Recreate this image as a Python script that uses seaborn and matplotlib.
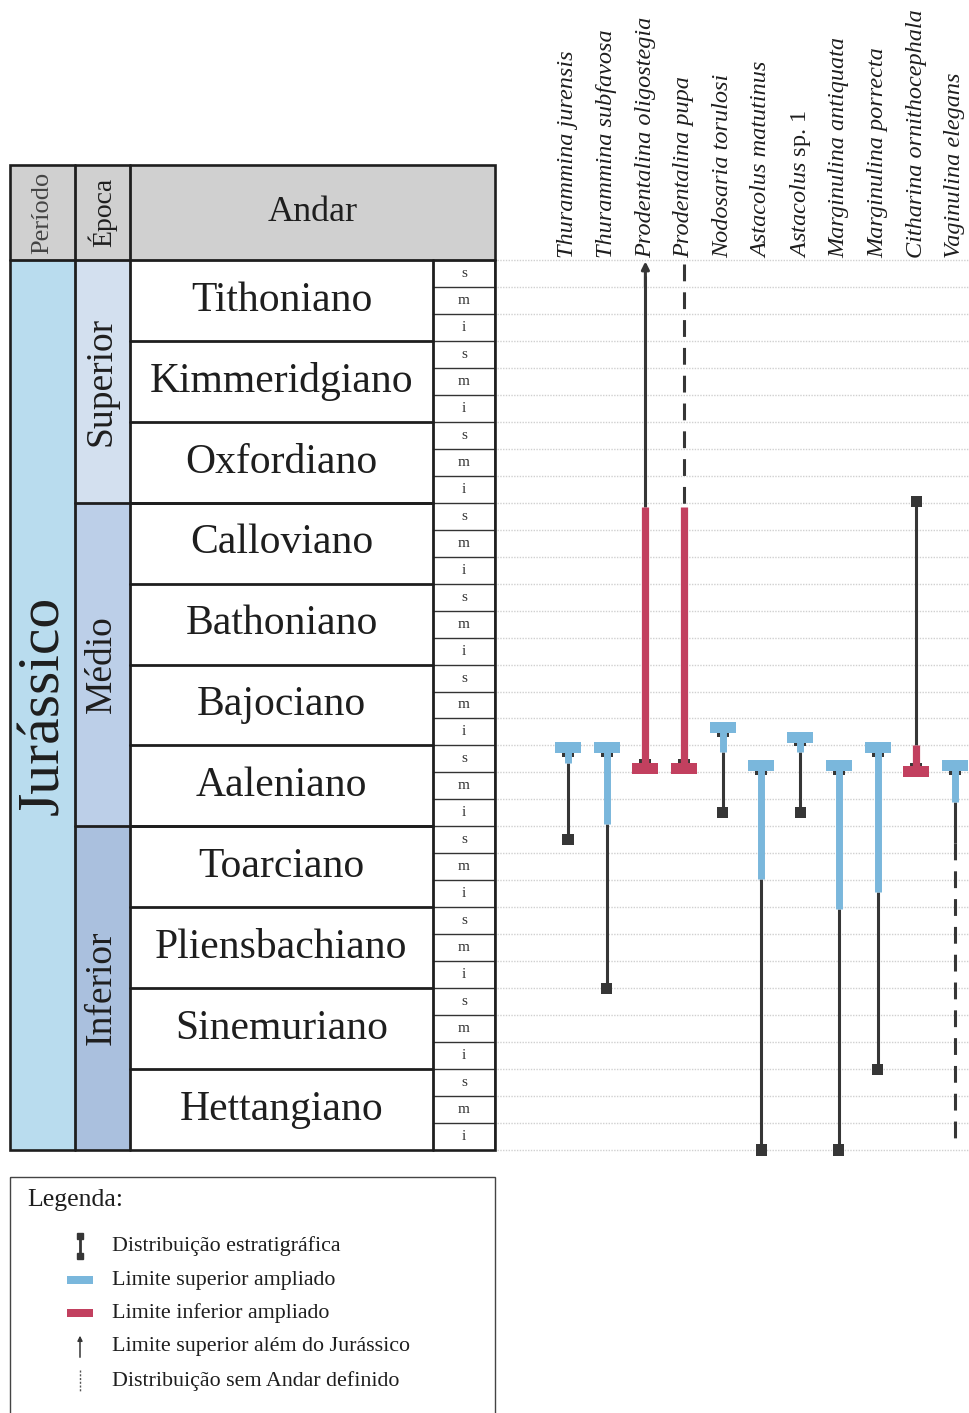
import numpy as np
import pandas as pd
import matplotlib
matplotlib.use("Agg")
import matplotlib.pyplot as plt
import seaborn as sns
from matplotlib.patches import Rectangle

# ------------------ DATA ------------------
STAGES = ["Tithoniano", "Kimmeridgiano", "Oxfordiano", "Calloviano", "Bathoniano",
          "Bajociano", "Aaleniano", "Toarciano", "Pliensbachiano", "Sinemuriano",
          "Hettangiano"]
SUBSTAGES = ["s", "m", "i"]
EPOCHS = ["Superior", "Médio", "Inferior"]
EPOCH_STAGES = [3, 4, 4]
PERIOD = "Jurássico"

SPECIES = ["Thurammina jurensis", "Thurammina subfavosa", "Prodentalina oligostegia",
           "Prodentalina pupa", "Nodosaria torulosi", "Astacolus matutinus",
           "Astacolus sp. 1", "Marginulina antiquata", "Marginulina porrecta",
           "Citharina ornithocephala", "Vaginulina elegans"]

# depths in substage units: 0 = top of Tithoniano, 33 = base of Hettangiano
nan = np.nan
SOLID_TOP = [18.65, 20.9, 0.6, nan, 18.25, 22.95, 18.25, 24.05, 23.45, 8.95, 20.1]
SOLID_BOT = [21.5, 27.0, 9.15, nan, 20.5, 33.0, 20.5, 33.0, 30.0, 17.98, 21.6]
DASH_TOP = [nan, nan, nan, 0.15, nan, nan, nan, nan, nan, nan, 21.6]
DASH_BOT = [nan, nan, nan, 9.15, nan, nan, nan, nan, nan, nan, 32.75]
BLUE_TOP = [18.08, 18.08, nan, nan, 17.35, 18.75, 17.7, 18.75, 18.08, nan, 18.75]
BLUE_BOT = [18.65, 20.9, nan, nan, 18.25, 22.95, 18.25, 24.05, 23.45, nan, 20.1]
RED_TOP = [nan, nan, 9.15, 9.15, nan, nan, nan, nan, nan, 17.98, nan]
RED_BOT = [nan, nan, 18.85, 18.85, nan, nan, nan, nan, nan, 18.98, nan]
BEYOND = [0, 0, 1, 0, 0, 0, 0, 0, 0, 0, 0]
FIRST_SQ = [nan, nan, nan, nan, nan, nan, nan, nan, nan, 8.95, nan]
LAST_SQ = [21.5, 27.0, nan, nan, 20.5, 33.0, 20.5, 33.0, 30.0, nan, nan]

LEGEND_TITLE = "Legenda:"
LEGEND_ITEMS = ["Distribuição estratigráfica", "Limite superior ampliado",
                "Limite inferior ampliado", "Limite superior além do Jurássico",
                "Distribuição sem Andar definido"]

# ------------------ STYLE ------------------
BLUE = "#7ab7dc"
RED = "#c2405f"
BLACK = "#363636"
INK = "#1e1e1e"
W, H = 970, 1413
ROW_TOP, ROW_BOT = 260, 1150
U = (ROW_BOT - ROW_TOP) / 33.0


def py(px):
    return (px - ROW_TOP) / U


sns.set_style("white")
plt.rcParams["font.family"] = ["Liberation Serif", "DejaVu Serif"]
plt.rcParams["mathtext.fontset"] = "custom"
plt.rcParams["mathtext.rm"] = "Liberation Serif"
plt.rcParams["mathtext.it"] = "Liberation Serif:italic"

fig = plt.figure(figsize=(W / 100, H / 100), dpi=100)
ax = fig.add_axes([0, 0, 1, 1])

# ------------------ TABLE ------------------
X0, XP, XE, XS, X1 = 10, 75, 130, 433, 495
n_sub = len(STAGES) * len(SUBSTAGES)
head_top = py(165)

ax.add_patch(Rectangle((X0, head_top), X1 - X0, -head_top, fc="#d0d0d0", ec="none"))
ax.add_patch(Rectangle((X0, 0), XP - X0, n_sub, fc="#b9dcee", ec="none"))
epoch_cols = ["#d3e0ef", "#bccfe8", "#aac0de"]
start = 0
for ep, ns, c in zip(EPOCHS, EPOCH_STAGES, epoch_cols):
    ax.add_patch(Rectangle((XP, start * 3), XE - XP, ns * 3, fc=c, ec="none"))
    ax.text((XP + XE) / 2 - 1, start * 3 + ns * 1.5, ep, rotation=90, ha="center",
            va="center", fontsize=27, color=INK)
    if start > 0:
        ax.plot([XP, XS], [start * 3, start * 3], color=INK, lw=2.0)
    start += ns

for i, st in enumerate(STAGES):
    ax.text((XE + XS) / 2, i * 3 + 1.5, st, ha="center", va="center",
            fontsize=30, color=INK)
    if i > 0:
        ax.plot([XE, XS], [i * 3, i * 3], color=INK, lw=2.0)
    for j, ss in enumerate(SUBSTAGES):
        k = i * 3 + j
        ax.text((XS + X1) / 2, k + 0.5, ss, ha="center", va="center",
                fontsize=11, color="#333333")
        if k > 0:
            ax.plot([XS, X1], [k, k], color="#333333", lw=1.0)

ax.text((X0 + XP) / 2 + 2, n_sub / 2, PERIOD, rotation=90, ha="center", va="center",
        fontsize=43, color=INK)
ax.text((X0 + XP) / 2, head_top / 2, "Período", rotation=90, ha="center", va="center",
        fontsize=19, color="#444444")
ax.text((XP + XE) / 2, head_top / 2, "Época", rotation=90, ha="center", va="center",
        fontsize=20, color=INK)
ax.text((XE + X1) / 2, head_top / 2, "Andar", ha="center", va="center",
        fontsize=26, color=INK)

# grid lines + table frame
for xv in [XP, XE]:
    ax.plot([xv, xv], [head_top, n_sub], color=INK, lw=2.0)
ax.plot([XS, XS], [0, n_sub], color=INK, lw=2.0)
ax.plot([X1, X1], [0, n_sub], color="#333333", lw=1.2)
ax.plot([X0, X1], [0, 0], color=INK, lw=2.0)
ax.add_patch(Rectangle((X0, head_top), X1 - X0, n_sub - head_top, fc="none",
                       ec=INK, lw=1.9, zorder=5))

# ------------------ RANGE CHART ------------------
ax.hlines(np.arange(n_sub + 1), 497, W, colors="#d0d0d0", linestyles=(0, (1, 1)),
          lw=1.0, zorder=1)

col_x = 568 + np.arange(len(SPECIES)) * 38.7
cap_w, cap_h = 26, 11 / U

for i, name in enumerate(SPECIES):
    x = col_x[i]
    if "sp." in name:
        lab, style = r"$\mathit{Astacolus}$ sp. 1", "normal"
    else:
        lab, style = name, "italic"
    ax.text(x, py(258), lab, rotation=90, ha="center", va="bottom", fontsize=17.5,
            style=style, color=INK)

    if not np.isnan(SOLID_TOP[i]):
        ax.plot([x, x], [SOLID_TOP[i], SOLID_BOT[i]], color=BLACK, lw=2.2, zorder=2,
                solid_capstyle="butt")
    if not np.isnan(DASH_TOP[i]):
        ax.plot([x, x], [DASH_TOP[i], DASH_BOT[i]], color=BLACK, lw=2.2, zorder=2,
                linestyle=(0, (5.5, 3.6)))
    if BEYOND[i]:
        ax.annotate("", xy=(x, 0.05), xytext=(x, 1.0),
                    arrowprops=dict(arrowstyle="-|>", color=BLACK, lw=2.2,
                                    mutation_scale=11, shrinkA=0, shrinkB=0),
                    zorder=3)
    if not np.isnan(BLUE_TOP[i]):
        ax.plot([x, x], [BLUE_TOP[i], BLUE_BOT[i]], color=BLUE, lw=5.0, zorder=4,
                solid_capstyle="butt")
        ax.add_patch(Rectangle((x - 6, BLUE_TOP[i] + cap_h / 2 - 0.02), 12, 4 / U,
                               fc=BLACK, ec="none", zorder=3))
        ax.add_patch(Rectangle((x - cap_w / 2, BLUE_TOP[i] - cap_h / 2), cap_w, cap_h,
                               fc=BLUE, ec="none", zorder=5))
    if not np.isnan(RED_TOP[i]):
        ax.plot([x, x], [RED_TOP[i], RED_BOT[i]], color=RED, lw=5.2, zorder=4,
                solid_capstyle="butt")
        ax.add_patch(Rectangle((x - 6, RED_BOT[i] - cap_h / 2 - 4 / U + 0.02), 12, 4 / U,
                               fc=BLACK, ec="none", zorder=3))
        ax.add_patch(Rectangle((x - cap_w / 2, RED_BOT[i] - cap_h / 2), cap_w, cap_h,
                               fc=RED, ec="none", zorder=5))

sq = pd.DataFrame({
    "x": np.concatenate([col_x, col_x]),
    "y": np.array(FIRST_SQ + LAST_SQ, dtype=float),
}).dropna()
sns.scatterplot(data=sq, x="x", y="y", marker="s", s=64, color=BLACK,
                edgecolor="none", ax=ax, zorder=6, legend=False)

# ------------------ LEGEND ------------------
leg_top = py(1177)
ax.add_patch(Rectangle((X0, leg_top), X1 - X0, py(1420) - leg_top, fc="none",
                       ec="#444444", lw=1.0, clip_on=False))
ax.text(27, py(1200), LEGEND_TITLE, ha="left", va="center", fontsize=18.5, color=INK)
item_y = [py(p) for p in (1246, 1280, 1313, 1347, 1381)]
for yy, lab in zip(item_y, LEGEND_ITEMS):
    ax.text(112, yy, lab, ha="left", va="center", fontsize=15.8, color=INK)
ix = 80
y0 = item_y[0]
ax.plot([ix, ix], [y0 - 0.38, y0 + 0.38], color=BLACK, lw=2.0)
ax.plot([ix, ix], [y0 - 0.38, y0 + 0.38], "s", color=BLACK, ms=4)
for yy, c in zip(item_y[1:3], [BLUE, RED]):
    ax.add_patch(Rectangle((ix - 13, yy - 0.16), 26, 0.32, fc=c, ec="none"))
ax.annotate("", xy=(ix, item_y[3] - 0.42), xytext=(ix, item_y[3] + 0.38),
            arrowprops=dict(arrowstyle="-|>", color=BLACK, lw=1.1,
                            mutation_scale=7, shrinkA=0, shrinkB=0))
ax.plot([ix, ix], [item_y[4] - 0.4, item_y[4] + 0.4], color="#555555", lw=1.0,
        linestyle=(0, (1.5, 1.2)))

ax.set_xlim(0, W)
ax.set_ylim(py(H), py(0))
ax.axis("off")
fig.savefig("out.png", dpi=100)
